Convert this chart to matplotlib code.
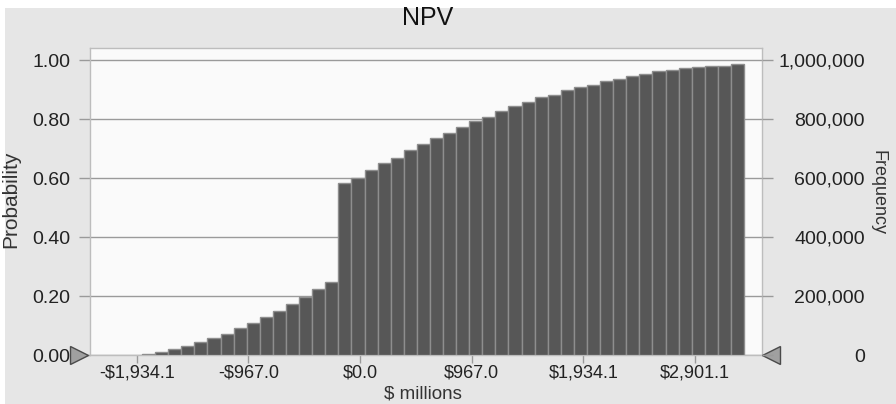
import numpy as np
import matplotlib
matplotlib.use("Agg")
from matplotlib import pyplot as plt
from matplotlib.patches import Rectangle
from matplotlib.ticker import FuncFormatter

plt.rcParams['font.family'] = ['Liberation Sans', 'DejaVu Sans']

# cumulative probability per bin
prob = [0.004, 0.010, 0.022, 0.031, 0.043, 0.057, 0.071, 0.090, 0.110, 0.130,
        0.150, 0.173, 0.198, 0.224, 0.248, 0.583, 0.600, 0.626, 0.650, 0.669,
        0.695, 0.715, 0.735, 0.754, 0.774, 0.793, 0.808, 0.828, 0.844, 0.858,
        0.873, 0.882, 0.898, 0.907, 0.916, 0.928, 0.937, 0.946, 0.953, 0.962,
        0.966, 0.972, 0.976, 0.981, 0.981, 0.986]
bin_start = -1889.0   # $ millions
bin_width = 113.4
xticks = [-1934.1, -967.0, 0.0, 967.0, 1934.1, 2901.1]
xtick_labels = ["-$1,934.1", "-$967.0", "$0.0", "$967.0", "$1,934.1", "$2,901.1"]
yticks = [0.0, 0.2, 0.4, 0.6, 0.8, 1.0]
freq_ticks = [0, 200000, 400000, 600000, 800000, 1000000]
trials = 1000000

bins = bin_start + bin_width * np.arange(len(prob))

# figure
fig = plt.figure(figsize=(8.96, 4.04), dpi=100, facecolor='white')
fig.patches.append(Rectangle((5 / 896, 0), 1, 1 - 8 / 404, transform=fig.transFigure,
                             facecolor='#e6e6e6', edgecolor='none', zorder=-10))

ax = fig.add_axes([90 / 896, 1 - 355 / 404, 672 / 896, 307 / 404])
ax.set_facecolor('#fafafa')

# cumulative bars
ax.bar(bins, prob, width=bin_width, align='edge', color='#575757',
       edgecolor='#8e8e8e', linewidth=1.0, zorder=3)

ax.set_xlim(-2340, 3483)
ax.set_ylim(0, 1.0407)
ax.set_xticks(xticks)
ax.set_xticklabels(xtick_labels)
ax.set_yticks(yticks)
ax.yaxis.set_major_formatter(FuncFormatter(lambda v, p: f"{v:.2f}"))

# gridlines and spines
ax.grid(axis='y', color='#9a9a9a', linewidth=1.0, zorder=1)
for s in ax.spines:
    ax.spines[s].set_color('#bdbdbd')
    ax.spines[s].set_linewidth(1.0)
ax.tick_params(axis='y', length=8, width=1, color='#9a9a9a', pad=6,
               labelsize=14, labelcolor='#222222')
ax.tick_params(axis='x', length=6, width=1, color='#9a9a9a', pad=1,
               labelsize=13, labelcolor='#222222')

# frequency axis on the right
ax2 = ax.twinx()
ax2.set_ylim(0, 1.0407 * trials)
ax2.set_yticks(freq_ticks)
ax2.yaxis.set_major_formatter(FuncFormatter(lambda v, p: f"{int(v):,}"))
ax2.tick_params(axis='y', length=8, width=1, color='#9a9a9a', pad=66,
                labelsize=14, labelcolor='#222222')
for lab in ax2.get_yticklabels():
    lab.set_horizontalalignment('right')
for s in ax2.spines:
    ax2.spines[s].set_visible(False)

# certainty grabbers
ax.plot([-0.016], [0], marker='>', markersize=13, color='#a0a0a0',
        markeredgecolor='#4a4a4a', markeredgewidth=1.0,
        transform=ax.get_yaxis_transform(), clip_on=False, zorder=6)
ax.plot([1.0134], [0], marker='<', markersize=13, color='#a0a0a0',
        markeredgecolor='#4a4a4a', markeredgewidth=1.0,
        transform=ax.get_yaxis_transform(), clip_on=False, zorder=6)

# labels
fig.text(428 / 896, 1 - 18 / 404, "NPV", fontsize=18, ha='center', va='center',
         color='#111111')
fig.text(11 / 896, 1 - 199 / 404, "Probability", fontsize=15, rotation=90,
         ha='center', va='center', color='#333333')
fig.text(878 / 896, 1 - 192 / 404, "Frequency", fontsize=13, rotation=270,
         ha='center', va='center', color='#333333')
fig.text(423 / 896, 1 - 403 / 404, "$ millions", fontsize=13.5, ha='center',
         va='bottom', color='#333333')

fig.savefig("out.png", dpi=100, facecolor=fig.get_facecolor())
